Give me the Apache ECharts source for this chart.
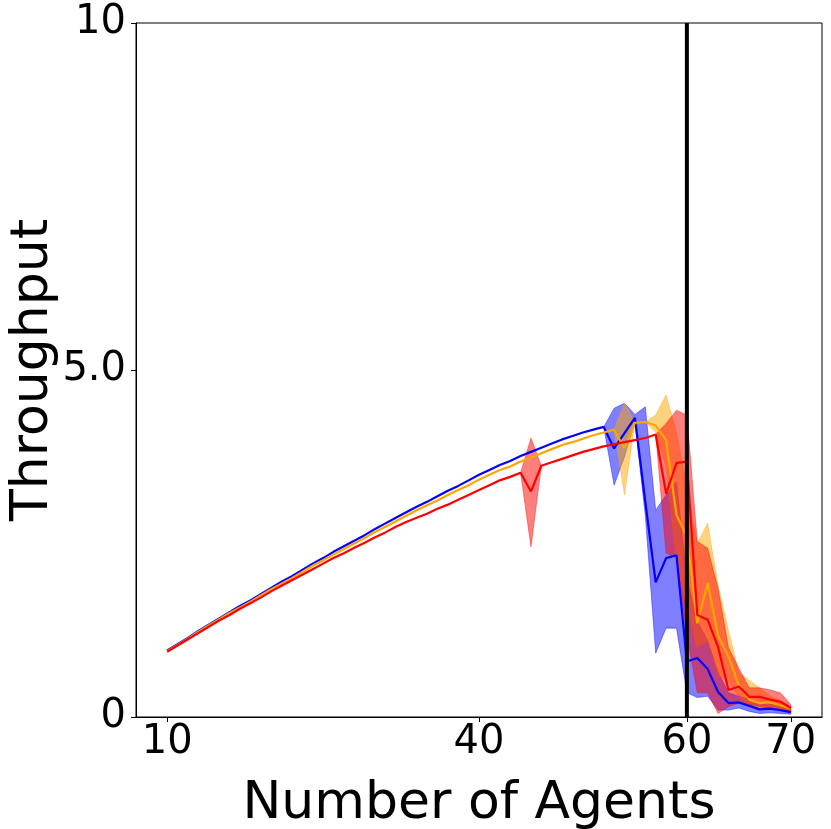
<!DOCTYPE html>
<html><head><meta charset="utf-8">
<script src="https://cdn.jsdelivr.net/npm/echarts@6/dist/echarts.min.js"></script>
<style>html,body{margin:0;padding:0;background:#fff}#c{width:831px;height:829px}</style>
</head><body><div id="c"></div>
<script>
// ---- data ----
const agents = [];
for (let n = 10; n <= 70; n++) agents.push(n);

const xTickValues = [10, 40, 60, 70];
const yTickValues = [0, 5, 10];
const yTickLabels = ['0', '5.0', '10'];
const thresholdAgents = 60;

const blueMean = [0.96,1.05,1.14,1.24,1.33,1.42,1.51,1.60,1.68,1.77,
1.86,1.95,2.03,2.12,2.21,2.29,2.38,2.46,2.54,2.62,
2.71,2.79,2.87,2.95,3.03,3.10,3.18,3.26,3.33,3.41,
3.49,3.56,3.63,3.69,3.76,3.82,3.88,3.94,4.00,4.05,
4.10,4.14,4.18,3.87,4.09,4.31,3.10,1.94,2.29,2.33,
0.80,0.85,0.69,0.36,0.20,0.21,0.16,0.11,0.12,0.10,
0.07];
const orangeMean = [0.95,1.04,1.13,1.23,1.32,1.41,1.50,1.58,1.66,1.75,
1.84,1.92,2.00,2.09,2.18,2.26,2.34,2.42,2.50,2.58,
2.67,2.74,2.82,2.90,2.98,3.05,3.12,3.20,3.27,3.34,
3.42,3.49,3.56,3.61,3.68,3.74,3.80,3.86,3.92,3.96,
4.01,4.06,4.10,4.14,3.87,4.24,4.25,4.20,3.99,2.91,
2.60,1.35,1.93,1.17,0.87,0.46,0.25,0.20,0.21,0.17,
0.12];
const redMean = [0.94,1.03,1.12,1.21,1.30,1.39,1.47,1.56,1.64,1.72,
1.81,1.89,1.97,2.05,2.13,2.21,2.29,2.36,2.44,2.51,
2.59,2.66,2.74,2.81,2.87,2.93,3.00,3.06,3.13,3.20,
3.27,3.34,3.41,3.46,3.52,3.25,3.62,3.67,3.72,3.77,
3.82,3.86,3.90,3.93,3.96,3.99,4.02,4.07,3.22,3.66,
3.68,1.47,1.40,1.01,0.39,0.44,0.29,0.29,0.25,0.22,
0.13];

const blueBandN = [52,53,54,55,56,57,58,59,60,61,62,63,64,65,66,67,68,69,70];
const blueLow  = [4.18,3.34,3.75,4.25,2.90,0.92,1.28,1.28,0.35,0.28,0.30,0.10,0.10,0.13,0.08,0.05,0.06,0.05,0.04];
const blueHigh = [4.18,4.45,4.52,4.36,4.47,2.98,3.20,3.39,2.00,1.38,1.10,0.65,0.35,0.30,0.25,0.18,0.20,0.16,0.11];

const orangeBandN = [53,54,55,56,57,58,59,60,61,62,63,64,65,66,67,68,69,70];
const orangeLow  = [4.14,3.20,4.24,4.25,4.10,3.60,2.20,1.60,1.00,1.10,0.60,0.50,0.30,0.15,0.12,0.12,0.10,0.08];
const orangeHigh = [4.14,4.52,4.24,4.25,4.35,4.64,4.10,3.30,2.50,2.79,1.90,1.25,0.64,0.53,0.42,0.30,0.24,0.15];

const redBand1N = [44,45,46];
const redBand1Low  = [3.52,2.45,3.62];
const redBand1High = [3.52,4.02,3.62];

const redBand2N = [57,58,59,60,61,62,63,64,65,66,67,68,69,70];
const redBand2Low  = [4.07,2.36,2.30,1.20,0.35,0.35,0.05,0.15,0.20,0.18,0.15,0.12,0.10,0.07];
const redBand2High = [4.07,4.23,4.42,4.35,2.53,2.43,1.85,1.00,0.70,0.42,0.42,0.39,0.35,0.18];

// ---- chart ----
const FONT = 'DejaVu Sans';
const BLUE = '#0000ff', ORANGE = '#ffa500', RED = '#ff0000';

function band(xs, lo, hi, fill) {
  return {
    type: 'custom', silent: true, z: 1, animation: false,
    data: [[xs[0], lo[0]]],
    renderItem: function (params, api) {
      const pts = [];
      for (let i = 0; i < xs.length; i++) pts.push(api.coord([xs[i], hi[i]]));
      for (let i = xs.length - 1; i >= 0; i--) pts.push(api.coord([xs[i], lo[i]]));
      return { type: 'polygon', shape: { points: pts }, style: { fill: fill, stroke: fill, lineWidth: 0.8 } };
    }
  };
}
function line(vals, color) {
  return {
    type: 'line', z: 3, showSymbol: false, animation: false, silent: true,
    data: agents.map((n, i) => [n, vals[i]]),
    lineStyle: { color: color, width: 2.2 }, itemStyle: { color: color }
  };
}

const chart = echarts.init(document.getElementById('c'));
chart.setOption({
  animation: false,
  backgroundColor: '#fff',
  grid: { left: 136, right: 9, top: 23, bottom: 112, outerBoundsMode: 'none', containLabel: false,
    show: true, borderColor: '#000', borderWidth: 1, backgroundColor: 'transparent' },
  xAxis: {
    type: 'value', min: 7, max: 73,
    name: 'Number of Agents', nameLocation: 'middle', nameGap: 61, nameMoveOverlap: false,
    nameTextStyle: { fontFamily: FONT, fontSize: 52, color: '#000' },
    axisLine: { show: true, lineStyle: { color: '#000', width: 1 } },
    axisTick: { show: true, customValues: xTickValues, length: 5, lineStyle: { color: '#000' } },
    axisLabel: { customValues: xTickValues, fontFamily: FONT, fontSize: 40, color: '#000', margin: 6 },
    splitLine: { show: false }
  },
  yAxis: {
    type: 'value', min: 0, max: 10,
    name: 'Throughput', nameLocation: 'middle', nameGap: 77, nameMoveOverlap: false,
    nameTextStyle: { fontFamily: FONT, fontSize: 52, color: '#000' },
    axisLine: { show: true, lineStyle: { color: '#000', width: 1 } },
    axisTick: { show: true, customValues: yTickValues, length: 5, lineStyle: { color: '#000' } },
    axisLabel: { customValues: yTickValues, fontFamily: FONT, fontSize: 40, color: '#000', margin: 10,
      formatter: v => yTickLabels[yTickValues.indexOf(v)] },
    splitLine: { show: false }
  },
  series: [
    band(blueBandN, blueLow, blueHigh, 'rgba(0,0,255,0.5)'),
    band(orangeBandN, orangeLow, orangeHigh, 'rgba(255,165,0,0.5)'),
    band(redBand1N, redBand1Low, redBand1High, 'rgba(255,0,0,0.5)'),
    band(redBand2N, redBand2Low, redBand2High, 'rgba(255,0,0,0.5)'),
    line(blueMean, BLUE),
    line(orangeMean, ORANGE),
    line(redMean, RED),
    {
      type: 'line', z: 10, showSymbol: false, animation: false, silent: true,
      data: [[thresholdAgents, 0], [thresholdAgents, 10]],
      lineStyle: { color: '#000', width: 4 }
    }
  ]
});
</script>
</body></html>
